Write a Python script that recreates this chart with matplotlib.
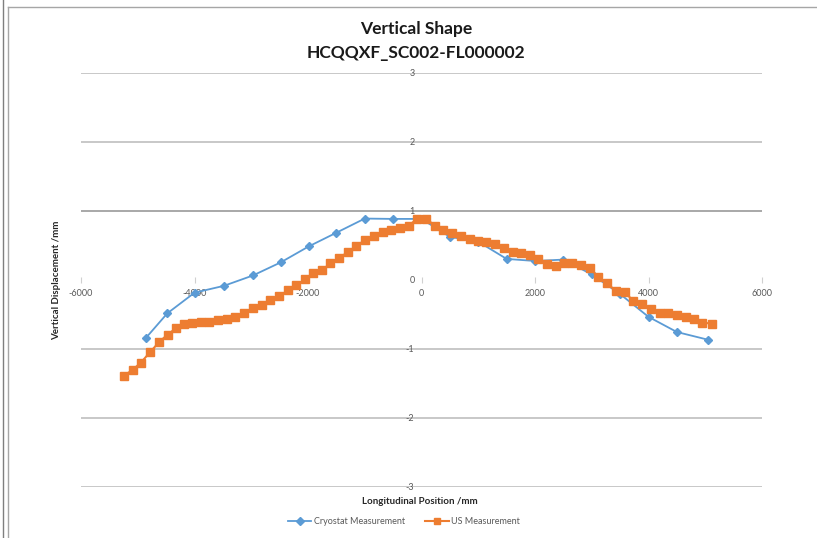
import matplotlib
matplotlib.use("Agg")
import matplotlib.pyplot as plt
from matplotlib.lines import Line2D

# Cryostat measurement (blue diamonds)
cryo_x = [-4850, -4480, -4000, -3480, -2970, -2480, -1990, -1500, -1000, -500,
          0, 500, 1000, 1500, 2000, 2500, 3000, 3500, 4000, 4500, 5040]
cryo_y = [-0.84, -0.49, -0.19, -0.09, 0.06, 0.25, 0.48, 0.68, 0.885, 0.88,
          0.88, 0.62, 0.55, 0.30, 0.27, 0.29, 0.075, -0.21, -0.54, -0.76, -0.87]

# US measurement (orange squares)
us_x = [-5250, -5092, -4944, -4780, -4621, -4474, -4326, -4192, -4044, -3885,
        -3739, -3586, -3434, -3280, -3122, -2968, -2810, -2663, -2504, -2351,
        -2205, -2058, -1910, -1751, -1605, -1446, -1300, -1152, -1000, -841,
        -675, -534, -383, -224, -76, 83, 235, 383, 541, 688,
        847, 993, 1141, 1296, 1451, 1610, 1758, 1905, 2058, 2205,
        2363, 2510, 2658, 2817, 2963, 3109, 3268, 3422, 3580, 3734,
        3892, 4039, 4198, 4351, 4497, 4656, 4802, 4951, 5115]
us_y = [-1.397, -1.310, -1.203, -1.049, -0.904, -0.797, -0.706, -0.648, -0.624, -0.609,
        -0.609, -0.586, -0.576, -0.537, -0.479, -0.407, -0.363, -0.301, -0.239, -0.152,
        -0.084, 0.003, 0.090, 0.137, 0.234, 0.317, 0.398, 0.485, 0.572, 0.632,
        0.693, 0.726, 0.751, 0.784, 0.881, 0.881, 0.784, 0.716, 0.669, 0.630,
        0.582, 0.557, 0.543, 0.509, 0.462, 0.404, 0.389, 0.350, 0.292, 0.230,
        0.195, 0.245, 0.234, 0.205, 0.172, 0.042, -0.055, -0.161, -0.181, -0.311,
        -0.359, -0.431, -0.479, -0.489, -0.518, -0.537, -0.576, -0.624, -0.638]

x_ticks = [-6000, -4000, -2000, 0, 2000, 4000, 6000]
y_ticks = [-3, -2, -1, 0, 1, 2, 3]

title = "Vertical Shape\nHCQQXF_SC002-FL000002"
x_label = "Longitudinal Position /mm"
y_label = "Vertical Displacement /mm"

BLUE = "#5B9BD5"
ORANGE = "#ED7D31"
TICK_GRAY = "#595959"
GRID_GRAY = "#BFBFBF"

plt.rcParams["font.family"] = ["Lato", "DejaVu Sans"]

fig = plt.figure(figsize=(8.17, 5.38), dpi=100)
ax = fig.add_axes([81 / 817, 1 - 486.5 / 538, (762 - 81) / 817, (486.5 - 72.7) / 538])

ax.set_xlim(-6000, 6000)
ax.set_ylim(-3, 3)

# horizontal gridlines (the zero line is covered by the axis)
for yv in y_ticks:
    if yv == 0:
        continue
    ax.axhline(yv, color="#9A9A9A" if yv == 1 else GRID_GRAY, lw=1.2, zorder=1)

ax.plot(cryo_x, cryo_y, color=BLUE, lw=1.3, marker="D", markersize=4,
        markerfacecolor=BLUE, markeredgecolor=BLUE, zorder=3,
        label="Cryostat Measurement")
ax.plot(us_x, us_y, color=ORANGE, lw=1.5, marker="s", markersize=5.2,
        markerfacecolor=ORANGE, markeredgecolor=ORANGE, zorder=4,
        label="US Measurement")

# axes cross at the origin, spines hidden
for side in ["top", "right"]:
    ax.spines[side].set_visible(False)
ax.spines["left"].set_position(("data", 0))
ax.spines["bottom"].set_position(("data", 0))
ax.spines["left"].set_visible(False)
ax.spines["bottom"].set_visible(False)

ax.set_xticks(x_ticks)
ax.set_xticklabels([str(v) for v in x_ticks])
ax.set_yticks(y_ticks)
ax.set_yticklabels([str(v) for v in y_ticks])
ax.tick_params(axis="x", direction="inout", length=4, width=0.8, color="#D0D0D0",
               labelsize=6.5, labelcolor=TICK_GRAY, pad=5)
ax.tick_params(axis="y", length=0, labelsize=6.5, labelcolor=TICK_GRAY, pad=5)

fig.text(416 / 817, 1 - 41 / 538, title, ha="center", va="center", fontsize=12.5,
         fontweight="bold", color="#1a1a1a", linespacing=1.6)
fig.text(420 / 817, 1 - 501 / 538, x_label, ha="center", va="center",
         fontsize=7, fontweight="bold", color="#262626")
fig.text(57 / 817, 1 - 280 / 538, y_label, ha="center", va="center",
         fontsize=7, fontweight="bold", color="#262626", rotation=90)

handles = [
    Line2D([], [], color=BLUE, lw=1.3, marker="D", markersize=4),
    Line2D([], [], color=ORANGE, lw=1.5, marker="s", markersize=5),
]
fig.legend(handles, ["Cryostat Measurement", "US Measurement"], loc="center",
           bbox_to_anchor=(404 / 817, 1 - 522 / 538), ncol=2, frameon=False,
           fontsize=6.5, labelcolor=TICK_GRAY, handlelength=2.6, columnspacing=2.2,
           handletextpad=0.3)

# chart frame lines
frame = dict(transform=fig.transFigure, color="#A6A6A6", lw=1.0)
fig.add_artist(Line2D([2.5 / 817, 2.5 / 817], [0, 1], color="#7F7F7F", lw=1.0,
                      transform=fig.transFigure))
fig.add_artist(Line2D([8 / 817, 8 / 817], [0, 1 - 7 / 538], **frame))
fig.add_artist(Line2D([8 / 817, 1], [1 - 7 / 538, 1 - 7 / 538], **frame))

fig.savefig("out.png", dpi=100)
